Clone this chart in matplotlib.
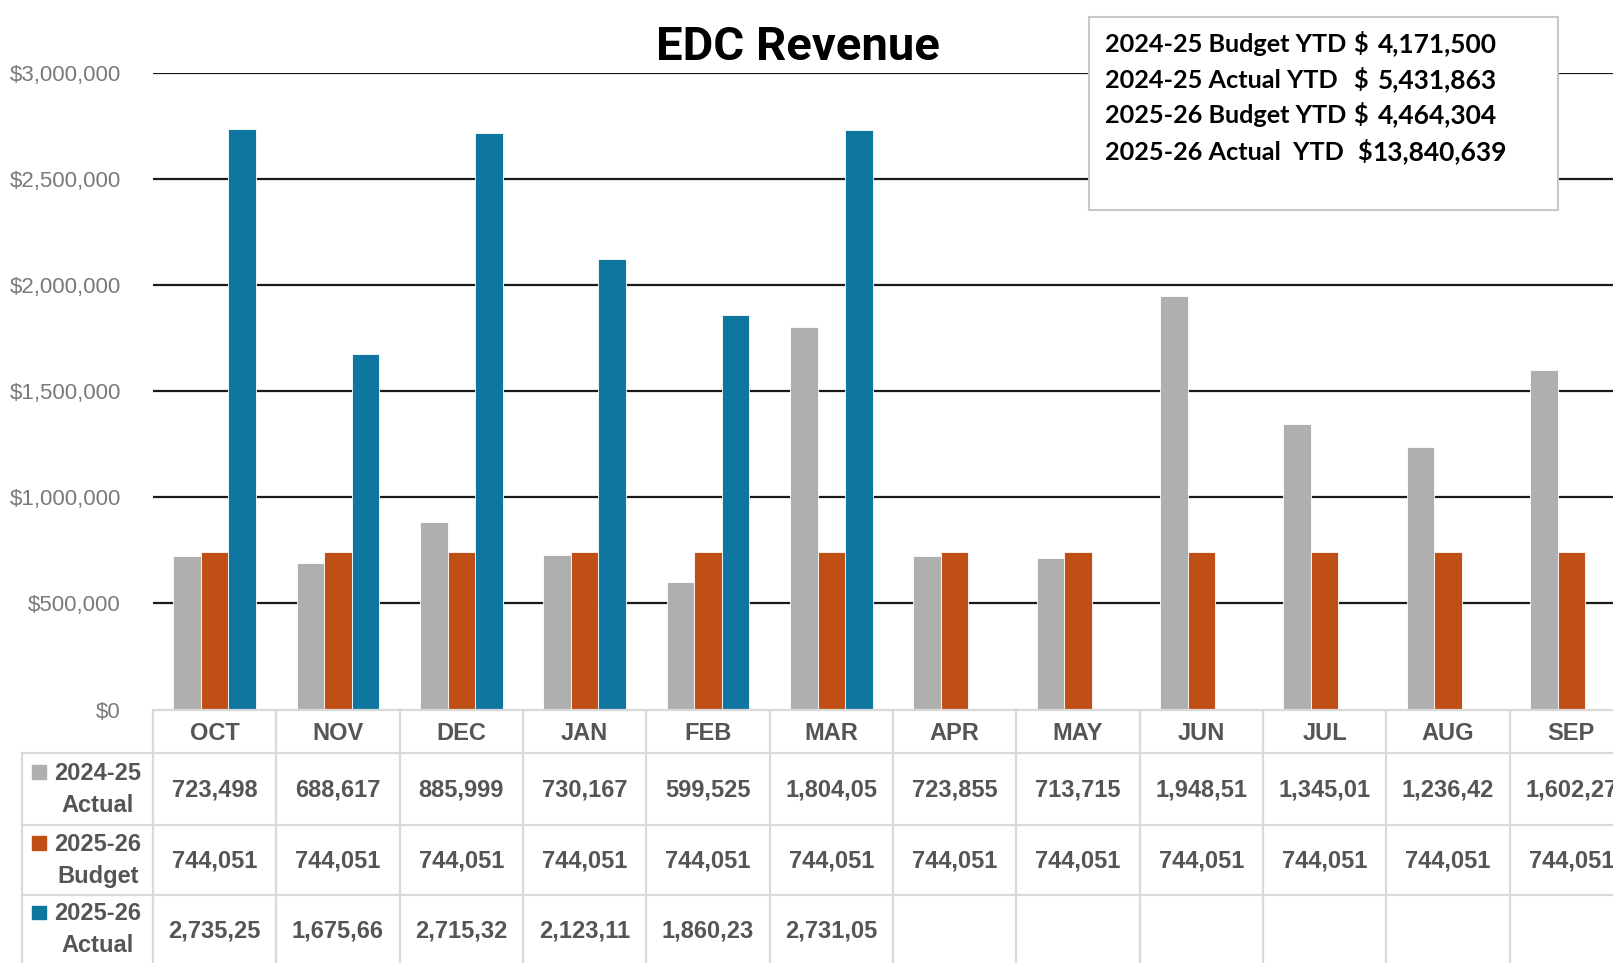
import numpy as np
import matplotlib
matplotlib.use("Agg")
import matplotlib.pyplot as plt
from matplotlib.patches import Rectangle
from matplotlib.ticker import FuncFormatter

# data
months = ["OCT", "NOV", "DEC", "JAN", "FEB", "MAR", "APR", "MAY", "JUN", "JUL", "AUG", "SEP"]
actual_2425 = [723498, 688617, 885999, 730167, 599525, 1804057,
               723855, 713715, 1948510, 1345010, 1236420, 1602270]
budget_2526 = [744051] * 12
actual_2526 = [2735254, 1675663, 2715322, 2123115, 1860233, 2731052]

series_names = ["2024-25\nActual", "2025-26\nBudget", "2025-26\nActual"]
ytd_labels = ["2024-25 Budget YTD", "2024-25 Actual YTD",
              "2025-26 Budget YTD", "2025-26 Actual  YTD"]
ytd_values = [4171500, 5431863, 4464304, 13840639]

GREY = "#AFAFAF"
ORANGE = "#C04F15"
BLUE = "#0F76A0"
colors = [GREY, ORANGE, BLUE]
TXT = "#555555"
LINE = "#D9D9D9"

W, H = 1613, 963
fig = plt.figure(figsize=(W / 100, H / 100), dpi=100)

# plot area in pixels of the reference
left, zero_y, top_y = 153, 709.5, 73
cat_w = 123.33
ax = fig.add_axes([left / W, 1 - zero_y / H, 12 * cat_w / W, (zero_y - top_y) / H])

x = np.arange(len(months))
bw = 0.223
series = [actual_2425, budget_2526, actual_2526]
for i, (vals, c) in enumerate(zip(series, colors)):
    xs = x[:len(vals)] + (i - 1) * bw
    ax.bar(xs, vals, bw, color=c, edgecolor="white", linewidth=0.6, zorder=3)

ax.set_xlim(-0.5, 11.5)
ax.set_ylim(0, 3000000)
ax.set_yticks(np.arange(0, 3000001, 500000))
ax.yaxis.set_major_formatter(FuncFormatter(lambda v, p: f"${v:,.0f}"))
ax.tick_params(axis="y", length=0, pad=23, labelsize=16, labelcolor="#7A7A7A")
ax.tick_params(axis="x", length=0, labelbottom=False)
for lab in ax.get_yticklabels():
    lab.set_fontfamily("Liberation Sans")
for s in ax.spines.values():
    s.set_visible(False)
for v in np.arange(500000, 3000001, 500000):
    ax.axhline(v, color="#1A1A1A", lw=1.6, zorder=1)

# data table under the plot
tx = fig.add_axes([left / W, 0, 12 * cat_w / W, (H - zero_y) / H])
tx.set_xlim(-0.5, 11.5)
tx.set_ylim(H - zero_y, 0)
tx.axis("off")
lab_x0 = -0.5 - (left - 22) / cat_w
rows = [0, 43.5, 115.5, 185.5, 270]
tfont = dict(family="Liberation Sans", fontsize=17, fontweight="bold", color=TXT)

tx.plot([-0.5, 11.5], [0, 0], color=LINE, lw=1.6, clip_on=False)
for r in rows[1:4]:
    tx.plot([lab_x0, 11.5], [r, r], color=LINE, lw=1.6, clip_on=False)
for k in range(13):
    tx.plot([k - 0.5, k - 0.5], [0, rows[-1]], color=LINE, lw=1.6, clip_on=False)
tx.plot([lab_x0, lab_x0], [rows[1], rows[-1]], color=LINE, lw=1.6, clip_on=False)

for j, m in enumerate(months):
    tx.text(j, rows[1] / 2 + 2, m, ha="center", va="center", **tfont)

for i, (name, vals, c) in enumerate(zip(series_names, series, colors)):
    yc = (rows[i + 1] + rows[i + 2]) / 2 if i < 2 else (rows[3] + 255) / 2
    tx.text(-0.5 - 55 / cat_w, yc, name, ha="center", va="center",
            linespacing=1.5, clip_on=False, **tfont)
    sq = 14 / cat_w
    tx.add_patch(Rectangle((lab_x0 + 10 / cat_w, yc - 24), sq, 13.5,
                           color=c, clip_on=False))
    for j, v in enumerate(vals):
        # Excel clips the wide numbers to the cell width
        tx.text(j, yc + 1, f"{v:,}"[:8], ha="center", va="center", **tfont)

# title
fig.text(798 / W, 1 - 60 / H, "EDC Revenue", ha="center", va="baseline",
         family="Roboto", fontsize=34, fontweight="bold", color="black")

# YTD summary box
fig.patches.append(Rectangle((1089 / W, 1 - 210 / H), (1558 - 1089) / W, (210 - 17) / H,
                             transform=fig.transFigure, facecolor="white",
                             edgecolor="#C8C8C8", lw=1.5, zorder=5))
bfont = dict(family="Lato", fontsize=18.2, fontweight="bold", color="black", zorder=6)
for k, (lab, val) in enumerate(zip(ytd_labels, ytd_values)):
    yb = 1 - [52, 88, 123, 160][k] / H
    fig.text(1105 / W, yb, lab, ha="left", va="baseline", **bfont)
    fig.text((1353 if k < 3 else 1357) / W, yb, "$", ha="left", va="baseline", **bfont)
    fig.text((1378 if k < 3 else 1372) / W, yb, f"{val:,}", ha="left", va="baseline",
             family="Lato", fontsize=19, fontweight="bold", color="black", zorder=6)

fig.savefig("out.png", dpi=100)
